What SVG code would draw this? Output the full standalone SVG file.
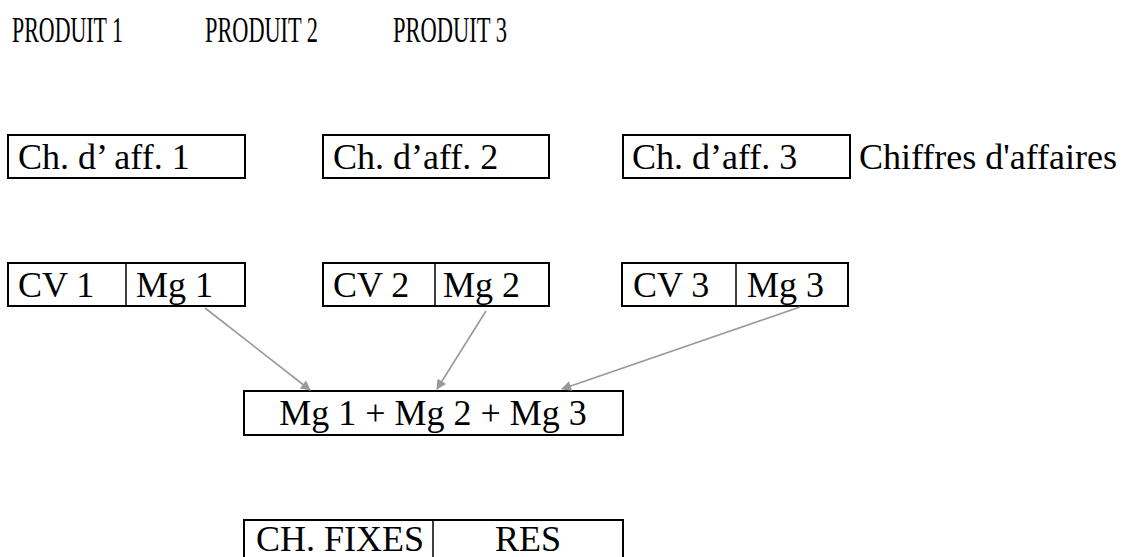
<svg xmlns="http://www.w3.org/2000/svg" width="1122" height="557" viewBox="0 0 1122 557">
<style>
text{font-family:"Liberation Serif","Times New Roman",serif;font-size:36px;fill:#000}
.box{fill:none;stroke:#000;stroke-width:2}
.div{stroke:#000;stroke-width:1.5}
.arr{stroke:#999;stroke-width:1.6;fill:none;marker-end:url(#ah)}
</style>
<defs>
<marker id="ah" viewBox="0 0 10 10" refX="9" refY="5" markerWidth="11" markerHeight="10" markerUnits="userSpaceOnUse" orient="auto">
<path d="M0,0 L10,5 L0,10 z" fill="#999"/>
</marker>
</defs>
<rect width="1122" height="557" fill="#fff"/>
<g id="titles">
<text x="12" y="42" textLength="111" lengthAdjust="spacingAndGlyphs">PRODUIT 1</text>
<text x="205" y="42" textLength="113" lengthAdjust="spacingAndGlyphs">PRODUIT 2</text>
<text x="393" y="42" textLength="114" lengthAdjust="spacingAndGlyphs">PRODUIT 3</text>
</g>
<g id="ca1">
<rect class="box" x="8" y="135" width="237" height="43"/>
<text x="18" y="169">Ch. d’ aff. 1</text>
</g>
<g id="ca2">
<rect class="box" x="323" y="135" width="226" height="43"/>
<text x="333" y="169">Ch. d’aff. 2</text>
</g>
<g id="ca3">
<rect class="box" x="623" y="135" width="227" height="43"/>
<text x="632" y="169">Ch. d’aff. 3</text>
</g>
<g id="ca-label">
<text x="859" y="169">Chiffres d'affaires</text>
</g>
<g id="cvmg1">
<rect class="box" x="8" y="263" width="237" height="43"/>
<line class="div" x1="126" y1="263" x2="126" y2="306"/>
<text x="18" y="297">CV 1</text>
<text x="136" y="297">Mg 1</text>
</g>
<g id="cvmg2">
<rect class="box" x="323" y="263" width="226" height="43"/>
<line class="div" x1="435" y1="263" x2="435" y2="306"/>
<text x="333" y="297">CV 2</text>
<text x="443" y="297">Mg 2</text>
</g>
<g id="cvmg3">
<rect class="box" x="622" y="263" width="226" height="43"/>
<line class="div" x1="736" y1="263" x2="736" y2="306"/>
<text x="633" y="297">CV 3</text>
<text x="747" y="297">Mg 3</text>
</g>
<g id="summg">
<rect class="box" x="244" y="391" width="379" height="44"/>
<text x="433" y="425" text-anchor="middle">Mg 1 + Mg 2 + Mg 3</text>
</g>
<g id="result">
<rect class="box" x="244" y="520" width="379" height="44"/>
<line class="div" x1="433" y1="520" x2="433" y2="557"/>
<text x="256" y="551">CH. FIXES</text>
<text x="528" y="551" text-anchor="middle">RES</text>
</g>
<g id="connectors">
<path class="arr" d="M205,308 L310,390"/>
<path class="arr" d="M486,311 L437,389"/>
<path class="arr" d="M800,307 L562,389"/>
</g>
</svg>
